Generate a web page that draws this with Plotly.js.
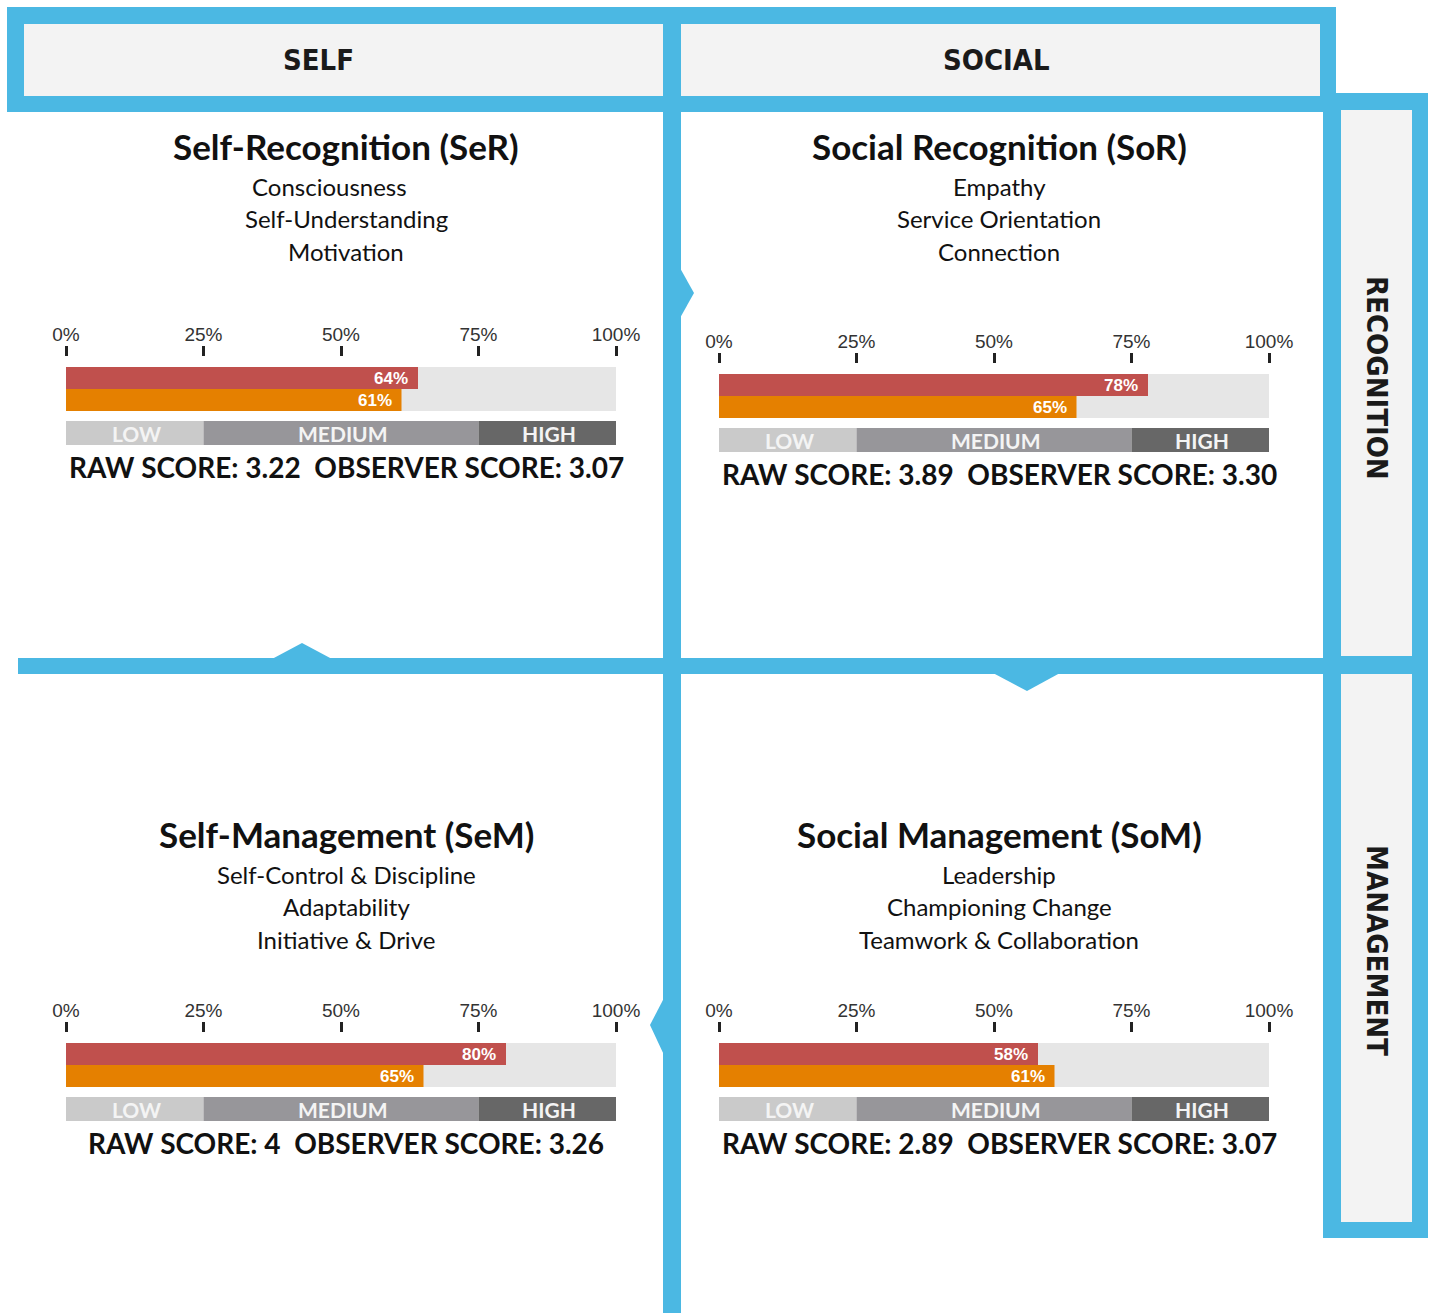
<!DOCTYPE html>
<html>
<head>
<meta charset="utf-8">
<script src="https://cdn.plot.ly/plotly-3.0.1.min.js"></script>
<style>html,body{margin:0;padding:0;background:#fff;}#chart{width:1431px;height:1313px;}</style>
</head>
<body>
<div id="chart"></div>
<script>
// ---------- DATA ----------
const columnHeaders = ['SELF', 'SOCIAL'];
const rowHeaders = ['RECOGNITION', 'MANAGEMENT'];
const quadrantTitles = ['Self-Recognition (SeR)', 'Social Recognition (SoR)', 'Self-Management (SeM)', 'Social Management (SoM)'];
const quadrantItems = [
  ['Consciousness', 'Self-Understanding', 'Motivation'],
  ['Empathy', 'Service Orientation', 'Connection'],
  ['Self-Control & Discipline', 'Adaptability', 'Initiative & Drive'],
  ['Leadership', 'Championing Change', 'Teamwork & Collaboration']
];
const rawPct = [64, 78, 80, 58];
const observerPct = [61, 65, 65, 61];
const rawScore = ['3.22', '3.89', '4', '2.89'];
const observerScore = ['3.07', '3.30', '3.26', '3.07'];
const bandLabels = ['LOW', 'MEDIUM', 'HIGH'];
const bandStart = [0, 25, 75];
const bandEnd = [25, 75, 100];
const tickVals = [0, 25, 50, 75, 100];
const tickText = ['0%', '25%', '50%', '75%', '100%'];

// ---------- LAYOUT CONSTANTS ----------
const W = 1431, H = 1313;
const BLUE = '#4BB8E3', PANEL = '#F3F3F3';
const TITLE_FONT = 'Lato, "Open Sans", sans-serif';
const COND_FONT = '"Liberation Sans Narrow", "DejaVu Sans Condensed", "Arial Narrow", sans-serif';
const quads = [
  {x0: 66, x1: 616, top: 367, cx: 346, ty: 146},
  {x0: 719, x1: 1269, top: 374, cx: 999, ty: 146},
  {x0: 66, x1: 616, top: 1043, cx: 346, ty: 834},
  {x0: 719, x1: 1269, top: 1043, cx: 999, ty: 834}
];
const subOffsets = [40, 72, 105];
const subX = [[329, 346, 346], [999, 999, 999], [346, 346, 346], [999, 999, 999]];

const traces = [];
const annotations = [];
const layout = {
  width: W, height: H,
  margin: {l: 0, r: 0, t: 0, b: 0},
  paper_bgcolor: '#ffffff',
  plot_bgcolor: 'rgba(0,0,0,0)',
  showlegend: false,
  barmode: 'overlay',
  hovermode: false,
  xaxis5: {domain: [0, 1], range: [0, W], visible: false, fixedrange: true, anchor: 'y5'},
  yaxis5: {domain: [0, 1], range: [H, 0], visible: false, fixedrange: true, anchor: 'x5'},
  shapes: [],
  annotations: annotations
};

quads.forEach((q, i) => {
  const s = i === 0 ? '' : String(i + 1);
  const xa = 'x' + s, ya = 'y' + s;
  const yTopPx = q.top - 10, yBotPx = q.top + 78;
  layout['xaxis' + s] = {
    domain: [q.x0 / W, q.x1 / W], range: [0, 100], anchor: ya, side: 'top',
    tickmode: 'array', tickvals: tickVals, ticktext: tickText,
    ticks: 'outside', ticklen: 10, tickwidth: 3, tickcolor: '#222',
    ticklabelstandoff: -3,
    showgrid: false, zeroline: false, showline: false, fixedrange: true,
    tickfont: {family: '"Liberation Sans", Arial, sans-serif', size: 19, color: '#333'}
  };
  layout['yaxis' + s] = {
    domain: [1 - yBotPx / H, 1 - yTopPx / H], range: [78, -10], anchor: xa,
    visible: false, fixedrange: true
  };
  traces.push({type: 'bar', orientation: 'h', x: [tickVals[tickVals.length - 1]], y: [22], width: [44],
    marker: {color: '#E6E6E6', line: {width: 0}}, xaxis: xa, yaxis: ya, hoverinfo: 'skip'});
  traces.push({type: 'bar', orientation: 'h', x: [rawPct[i]], y: [11], width: [22],
    marker: {color: '#C0504D', line: {width: 0}}, xaxis: xa, yaxis: ya, hoverinfo: 'skip'});
  traces.push({type: 'bar', orientation: 'h', x: [observerPct[i]], y: [33], width: [22],
    marker: {color: '#E58000', line: {width: 0}}, xaxis: xa, yaxis: ya, hoverinfo: 'skip'});
  traces.push({type: 'bar', orientation: 'h',
    x: bandEnd.map((e, k) => e - bandStart[k]), base: bandStart, y: [66, 66, 66], width: [24, 24, 24],
    marker: {color: ['#CACACA', '#97969A', '#676767'], line: {width: 0}}, xaxis: xa, yaxis: ya, hoverinfo: 'skip'});

  annotations.push({xref: xa, yref: ya, x: rawPct[i], y: 11, text: '<b>' + rawPct[i] + '%</b>', showarrow: false,
    xanchor: 'right', xshift: -8, yanchor: 'middle', font: {family: '"Liberation Sans", Arial, sans-serif', size: 17, color: '#ffffff'}});
  annotations.push({xref: xa, yref: ya, x: observerPct[i], y: 33, text: '<b>' + observerPct[i] + '%</b>', showarrow: false,
    xanchor: 'right', xshift: -8, yanchor: 'middle', font: {family: '"Liberation Sans", Arial, sans-serif', size: 17, color: '#ffffff'}});
  bandLabels.forEach((lab, k) => {
    annotations.push({xref: xa, yref: ya, x: (bandStart[k] + bandEnd[k]) / 2, y: 66, text: '<b>' + lab + '</b>', showarrow: false,
      xanchor: 'center', yanchor: 'middle', xshift: 2, font: {family: TITLE_FONT, size: 21, color: '#F4F4F4'}});
  });

  annotations.push({xref: 'x5', yref: 'y5', x: q.cx, y: q.ty, text: '<b>' + quadrantTitles[i] + '</b>', showarrow: false,
    xanchor: 'center', yanchor: 'middle', font: {family: TITLE_FONT, size: 35, color: '#111'}});
  quadrantItems[i].forEach((t, k) => {
    annotations.push({xref: 'x5', yref: 'y5', x: subX[i][k], y: q.ty + subOffsets[k], text: t, showarrow: false,
      xanchor: 'center', yanchor: 'middle', font: {family: TITLE_FONT, size: 24, color: '#111'}});
  });
  annotations.push({xref: 'x5', yref: 'y5', x: q.cx, y: q.top + 100,
    text: '<b>RAW SCORE: ' + rawScore[i] + '&nbsp;&nbsp;OBSERVER SCORE: ' + observerScore[i] + '</b>', showarrow: false,
    xanchor: 'center', yanchor: 'middle', font: {family: TITLE_FONT, size: 28, color: '#111'}});
});

// ---------- FRAME ----------
function rect(x0, y0, x1, y1, c) {
  return {type: 'rect', xref: 'x5', yref: 'y5', x0: x0, y0: y0, x1: x1, y1: y1, fillcolor: c, line: {width: 0}, layer: 'below'};
}
function path(p) {
  return {type: 'path', xref: 'x5', yref: 'y5', path: p, fillcolor: BLUE, line: {width: 0}, layer: 'below'};
}
layout.shapes.push(rect(7, 7, 1336, 112, BLUE));
layout.shapes.push(rect(1323, 93, 1428, 1238, BLUE));
layout.shapes.push(rect(24, 24, 663, 96, PANEL));
layout.shapes.push(rect(681, 24, 1320, 96, PANEL));
layout.shapes.push(rect(1341, 110, 1412, 656, PANEL));
layout.shapes.push(rect(1341, 674, 1412, 1222, PANEL));
layout.shapes.push(rect(663, 96, 681, 1313, BLUE));
layout.shapes.push(rect(18, 658, 1323, 674, BLUE));
layout.shapes.push(path('M 680,268 L 694,293 L 680,318 Z'));
layout.shapes.push(path('M 272,659 L 302,643 L 332,659 Z'));
layout.shapes.push(path('M 993,673 L 1027,691 L 1060,673 Z'));
layout.shapes.push(path('M 664,998 L 650,1025 L 664,1055 Z'));

const HEAD_SIZE = 29;
annotations.push({xref: 'x5', yref: 'y5', x: 318, y: 60, text: '<b>' + columnHeaders[0] + '</b>', showarrow: false,
  xanchor: 'center', yanchor: 'middle', font: {family: COND_FONT, size: HEAD_SIZE, color: '#1a1a1a'}});
annotations.push({xref: 'x5', yref: 'y5', x: 996, y: 60, text: '<b>' + columnHeaders[1] + '</b>', showarrow: false,
  xanchor: 'center', yanchor: 'middle', font: {family: COND_FONT, size: HEAD_SIZE, color: '#1a1a1a'}});
annotations.push({xref: 'x5', yref: 'y5', x: 1377, y: 378, text: '<b>' + rowHeaders[0] + '</b>', showarrow: false, textangle: 90,
  xanchor: 'center', yanchor: 'middle', font: {family: COND_FONT, size: HEAD_SIZE, color: '#1a1a1a'}});
annotations.push({xref: 'x5', yref: 'y5', x: 1377, y: 950, text: '<b>' + rowHeaders[1] + '</b>', showarrow: false, textangle: 90,
  xanchor: 'center', yanchor: 'middle', font: {family: COND_FONT, size: HEAD_SIZE, color: '#1a1a1a'}});

traces.push({type: 'scatter', x: [0], y: [0], xaxis: 'x5', yaxis: 'y5', mode: 'markers', marker: {opacity: 0}, hoverinfo: 'skip'});

Plotly.newPlot('chart', traces, layout, {staticPlot: true, displayModeBar: false});
</script>
</body>
</html>
